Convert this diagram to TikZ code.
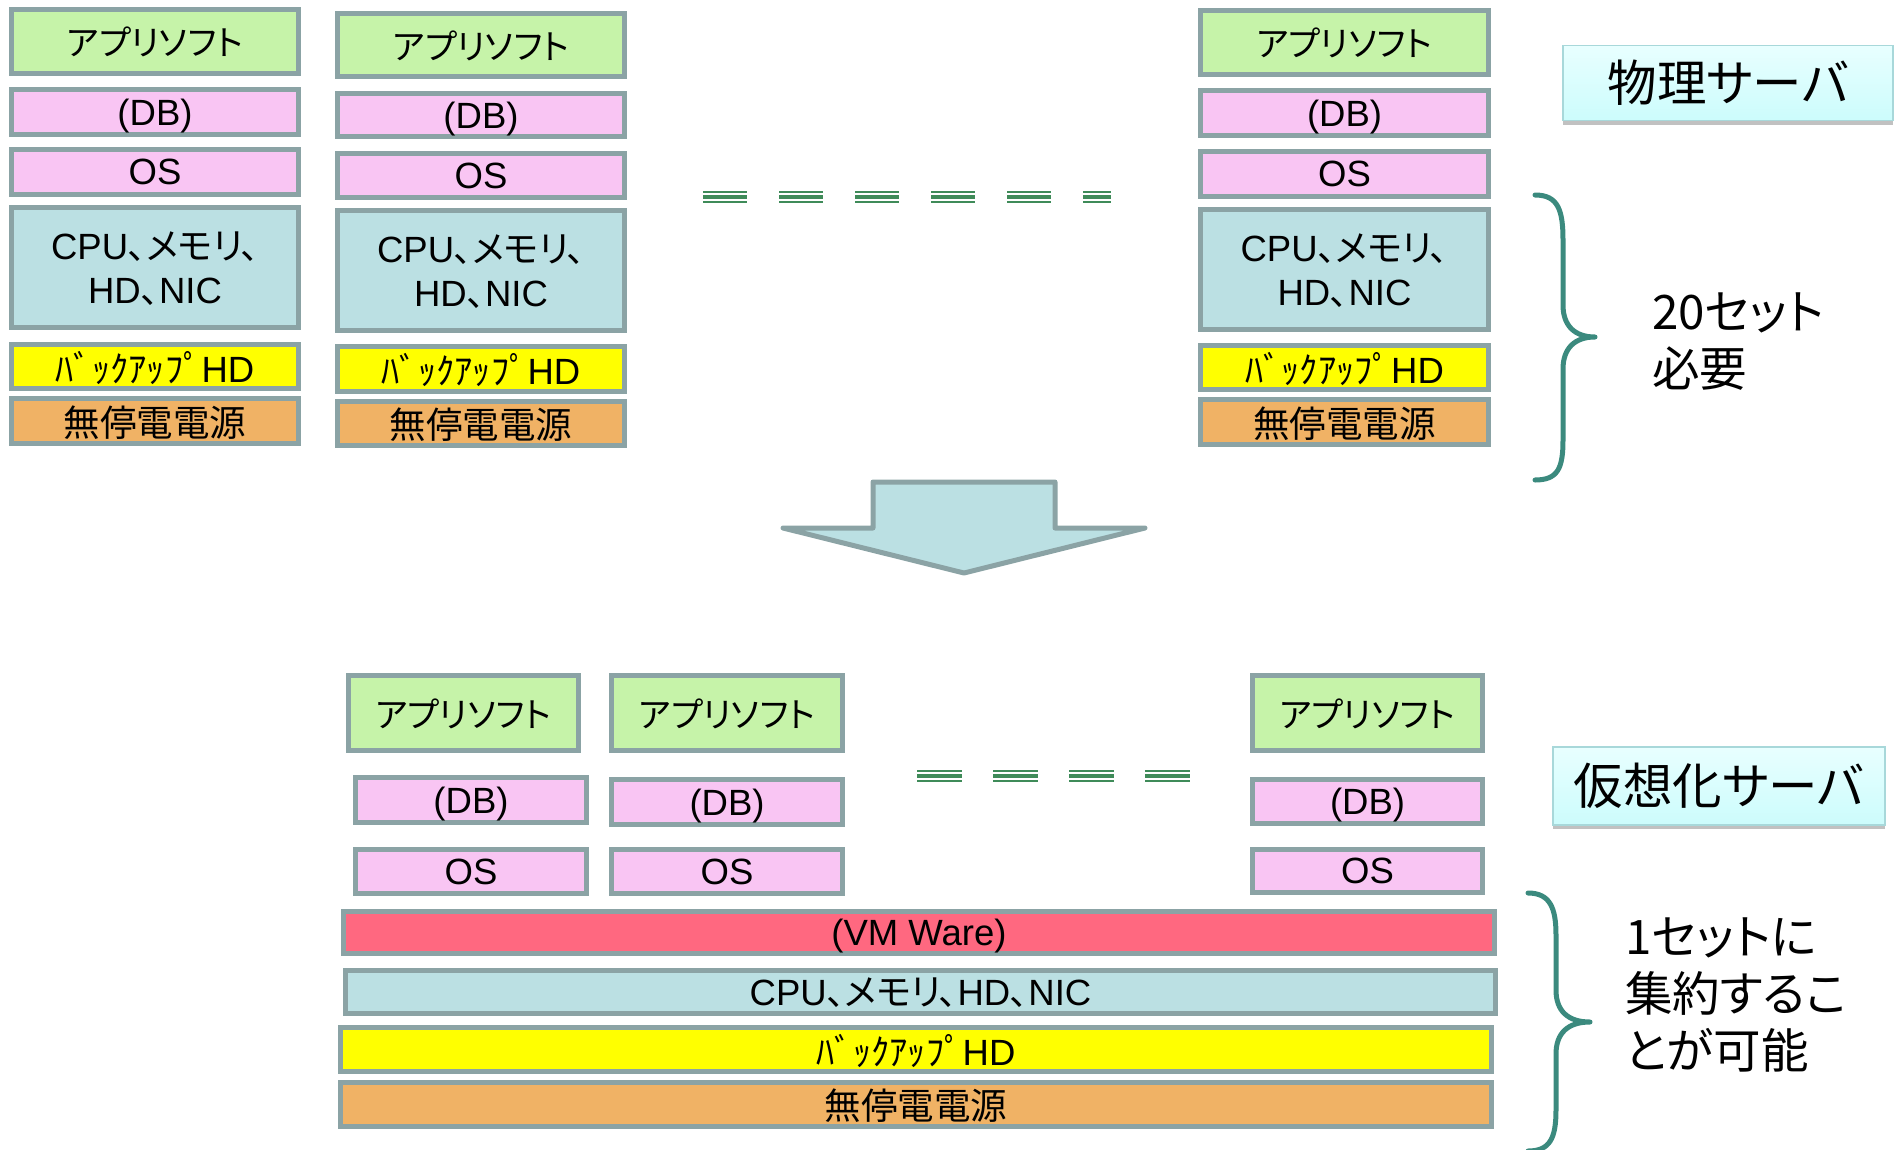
\documentclass[tikz,border=0pt]{standalone}
\usepackage{fontspec}
\setmainfont{Liberation Sans}
\newfontfamily\cjk[RawFeature=+palt]{Noto Sans CJK JP}
\usetikzlibrary{shadows}
\definecolor{boxline}{HTML}{8BA3A5}
\definecolor{appg}{HTML}{C6F3A9}
\definecolor{pinkc}{HTML}{F9C5F3}
\definecolor{cpub}{HTML}{BBE0E3}
\definecolor{yel}{HTML}{FFFF00}
\definecolor{orng}{HTML}{F0B265}
\definecolor{vmred}{HTML}{FF6880}
\definecolor{braceteal}{HTML}{3B8A7E}
\definecolor{dashg}{HTML}{3F8B59}
\definecolor{labtop}{HTML}{E8FFFF}
\definecolor{labbot}{HTML}{CCFCFC}
\definecolor{labline}{HTML}{A8D8DA}
\newcommand\lay[7]{%
  \node[lay, fill=#6, minimum width={(#4-#2-5)*1pt}, minimum height={(#5-#3-5)*1pt}] (#1) at ({(#2+#4)/2},{(#3+#5)/2}) {#7};}
\newcommand\dsh[3]{%
  \draw[dashg, line width=2.3] (#1,{#3-5.2}) -- (#2,{#3-5.2});
  \draw[dashg, line width=4.2] (#1,{#3}) -- (#2,{#3});
  \draw[dashg, line width=2.3] (#1,{#3+5.2}) -- (#2,{#3+5.2});}
\tikzset{
  lay/.style={draw=boxline, line width=5, rectangle, inner sep=0pt, align=center,
    text depth=0pt, font=\fontsize{36.5}{44}\selectfont},
  lbl/.style={draw=labline, line width=1.2, rectangle, top color=labtop, bottom color=labbot,
    drop shadow={shadow xshift=0pt, shadow yshift=-4pt, opacity=0.35, fill=black!70},
    font=\cjk\fontsize{49.5}{54}\selectfont, inner sep=0pt},
  note/.style={anchor=west, align=left, inner sep=0pt, font=\cjk\fontsize{47.5}{57}\selectfont},
  brc/.style={draw=braceteal, line width=5, line cap=round, line join=round}
}
\newcommand\bk{{\cjk ﾊﾞｯｸｱｯﾌﾟ}HD}
\newcommand\ap{{\cjk\fontsize{34.5}{40}\selectfont アプリソフト}}
\newcommand\ups{{\cjk 無停電電源}}
\newcommand\cpu{CPU{\cjk 、メモリ、}\\HD{\cjk 、}NIC}
\begin{document}
\begin{tikzpicture}[x=1pt,y=-1pt]
\useasboundingbox (0,0) rectangle (1904,1149);
% physical servers
\lay{appa}{9}{7}{301}{76}{appg}{\ap}
\lay{dba}{9}{87}{301}{137}{pinkc}{(DB)}
\lay{osa}{9}{147}{301}{197}{pinkc}{OS}
\lay{cpua}{9}{205}{301}{330}{cpub}{\cpu}
\lay{bka}{9}{342}{301}{391}{yel}{\bk}
\lay{upsa}{9}{396}{301}{446}{orng}{\ups}
\lay{appb}{335}{11}{627}{79}{appg}{\ap}
\lay{dbb}{335}{91}{627}{139}{pinkc}{(DB)}
\lay{osb}{335}{151}{627}{200}{pinkc}{OS}
\lay{cpub}{335}{208}{627}{333}{cpub}{\cpu}
\lay{bkb}{335}{344}{627}{394}{yel}{\bk}
\lay{upsb}{335}{399}{627}{448}{orng}{\ups}
\lay{appc}{1198}{8}{1491}{77}{appg}{\ap}
\lay{dbc}{1198}{88}{1491}{138}{pinkc}{(DB)}
\lay{osc}{1198}{149}{1491}{199}{pinkc}{OS}
\lay{cpuc}{1198}{207}{1491}{332}{cpub}{\cpu}
\lay{bkc}{1198}{343}{1491}{392}{yel}{\bk}
\lay{upsc}{1198}{397}{1491}{447}{orng}{\ups}
% dashes top
\dsh{703}{747}{197}
\dsh{779}{823}{197}
\dsh{855}{899}{197}
\dsh{931}{975}{197}
\dsh{1007}{1051}{197}
\dsh{1083}{1111}{197}
% label top
\node[lbl, minimum width=330pt, minimum height=75pt] (phys) at (1728,83) {物理サーバ};
% brace top
\draw[brc] (1535,195) .. controls (1558,195) and (1563,210) .. (1563,240) -- (1563,305)
  .. controls (1563,326) and (1575,337) .. (1595,337)
  .. controls (1575,337) and (1563,348) .. (1563,369) -- (1563,440)
  .. controls (1563,468) and (1558,480) .. (1535,480);
\node[note] (need20) at (1652,342) {20セット\\必要};
% big arrow
\draw[draw=boxline, fill=cpub, line width=5, line join=round]
  (873,482) -- (1055,482) -- (1055,528) -- (1145,528) -- (964,573) -- (783,528) -- (873,528) -- cycle;
% virtualized
\lay{vappa}{346}{673}{581}{753}{appg}{\ap}
\lay{vdba}{353}{775}{589}{825}{pinkc}{(DB)}
\lay{vosa}{353}{847}{589}{896}{pinkc}{OS}
\lay{vappb}{609}{673}{845}{753}{appg}{\ap}
\lay{vdbb}{609}{777}{845}{827}{pinkc}{(DB)}
\lay{vosb}{609}{847}{845}{896}{pinkc}{OS}
\lay{vappc}{1250}{673}{1485}{753}{appg}{\ap}
\lay{vdbc}{1250}{777}{1485}{826}{pinkc}{(DB)}
\lay{vosc}{1250}{847}{1485}{895}{pinkc}{OS}
\dsh{917}{962}{776}
\dsh{993}{1038}{776}
\dsh{1069}{1114}{776}
\dsh{1145}{1190}{776}
\lay{vm}{341}{909}{1497}{956}{vmred}{(VM Ware)}
\lay{vcpu}{343}{968}{1498}{1016}{cpub}{CPU{\cjk 、メモリ、}HD{\cjk 、}NIC}
\lay{vbk}{338}{1025}{1494}{1074}{yel}{\bk}
\lay{vups}{338}{1080}{1494}{1129}{orng}{\ups}
\node[lbl, minimum width=332pt, minimum height=78pt] (virt) at (1719,786) {仮想化サーバ};
\draw[brc] (1528,893) .. controls (1550,893) and (1556,908) .. (1556,935) -- (1556,990)
  .. controls (1556,1011) and (1568,1022) .. (1590,1022)
  .. controls (1568,1022) and (1556,1033) .. (1556,1054) -- (1556,1110)
  .. controls (1556,1138) and (1550,1151) .. (1528,1151);
\node[note] (oneset) at (1625,995) {1セットに\\集約するこ\\とが可能};
\end{tikzpicture}
\end{document}
